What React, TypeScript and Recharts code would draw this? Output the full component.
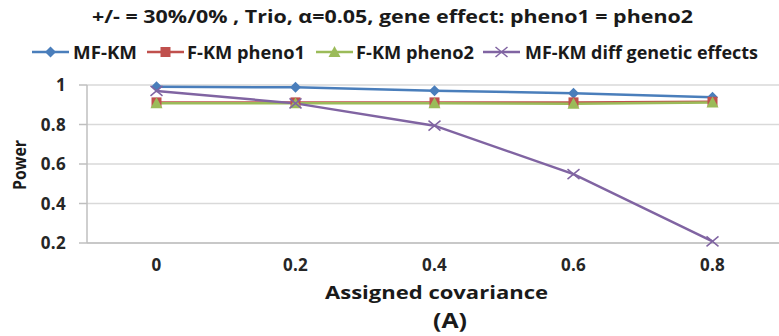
import { LineChart, Line, XAxis, YAxis, CartesianGrid } from 'recharts';

const covariance = ['0', '0.2', '0.4', '0.6', '0.8'];
const mfKm = [0.991, 0.988, 0.971, 0.958, 0.938];
const fKmPheno1 = [0.912, 0.912, 0.912, 0.912, 0.915];
const fKmPheno2 = [0.907, 0.907, 0.907, 0.905, 0.912];
const mfKmDiff = [0.97, 0.907, 0.794, 0.549, 0.208];
const powerTicks = [0.2, 0.4, 0.6, 0.8, 1];

const seriesNames = ['MF-KM', 'F-KM pheno1', 'F-KM pheno2', 'MF-KM diff genetic effects'];
const seriesColors = ['#4a7ebb', '#c0504d', '#9bbb59', '#8064a2'];
const seriesKeys = ['mf', 'p1', 'p2', 'diff'];

const data = covariance.map((x, i) => ({
  x,
  mf: mfKm[i],
  p1: fKmPheno1[i],
  p2: fKmPheno2[i],
  diff: mfKmDiff[i],
}));

const FONT = '"Open Sans", "Noto Sans", sans-serif';

// marker shapes, one per series
const Marker = ({ kind, cx, cy, color }: { kind: number; cx: number; cy: number; color: string }) => {
  if (kind === 0) {
    return <path d={`M${cx},${cy - 5.5}L${cx + 5.5},${cy}L${cx},${cy + 5.5}L${cx - 5.5},${cy}Z`} fill={color} />;
  }
  if (kind === 1) {
    return <rect x={cx - 5} y={cy - 5} width={10} height={10} fill={color} />;
  }
  if (kind === 2) {
    return <path d={`M${cx},${cy - 6}L${cx + 6},${cy + 5}L${cx - 6},${cy + 5}Z`} fill={color} />;
  }
  return (
    <path
      d={`M${cx - 6},${cy - 5}L${cx + 6},${cy + 5}M${cx - 6},${cy + 5}L${cx + 6},${cy - 5}`}
      stroke={color}
      strokeWidth={1.5}
      fill="none"
    />
  );
};

const makeDot = (kind: number) => (props: any) => (
  <Marker key={`d-${kind}-${props.index}`} kind={kind} cx={props.cx} cy={props.cy} color={seriesColors[kind]} />
);

// legend positions (line start, text start, text width)
const legendLayout = [
  { lx: 32, tx: 73, tw: 64 },
  { lx: 147, tx: 187, tw: 118 },
  { lx: 316, tx: 356, tw: 118 },
  { lx: 483, tx: 525, tw: 233 },
];

const App = () => {
  return (
    <div style={{ position: 'absolute', left: 0, top: 0, width: 779, height: 336, overflow: 'hidden', background: '#fff' }}>
      <LineChart width={790} height={336} data={data} margin={{ top: 85, right: 8, left: 0, bottom: 63 }}>
        <CartesianGrid vertical={false} stroke="#d9d9d9" strokeWidth={1.5} />
        <XAxis
          dataKey="x"
          padding={{ left: 69.5, right: 69.5 }}
          axisLine={{ stroke: '#bfbfbf', strokeWidth: 1.5 }}
          tickLine={false}
          tickSize={0}
          tickMargin={16}
          height={30}
          tick={{ fill: '#262626', fontSize: 17, fontWeight: 700, fontFamily: FONT, letterSpacing: 0.3 }}
        />
        <YAxis
          domain={[0.2, 1]}
          ticks={powerTicks}
          width={87}
          axisLine={{ stroke: '#bfbfbf', strokeWidth: 1.5 }}
          tickLine={{ stroke: '#bfbfbf', strokeWidth: 1.5 }}
          tickSize={8}
          tickMargin={13}
          tick={{ fill: '#262626', fontSize: 17, fontWeight: 700, fontFamily: FONT, letterSpacing: 0.3 }}
        />
        {seriesKeys.map((k, i) => (
          <Line
            key={k}
            dataKey={k}
            name={seriesNames[i]}
            stroke={seriesColors[i]}
            strokeWidth={2.5}
            dot={makeDot(i)}
            activeDot={false}
            isAnimationActive={false}
          />
        ))}
      </LineChart>
      <svg width={779} height={336} style={{ position: 'absolute', left: 0, top: 0, pointerEvents: 'none' }}>
        <g fontFamily={FONT} fontWeight={700} fill="#1a1a1a">
          <text x={92} y={16} dominantBaseline="central" fontSize={18} textLength={601} lengthAdjust="spacingAndGlyphs">
            +/- = 30%/0% , Trio, α=0.05, gene effect: pheno1 = pheno2
          </text>
          {legendLayout.map((l, i) => (
            <g key={i}>
              <line x1={l.lx} x2={l.lx + 37} y1={52} y2={52} stroke={seriesColors[i]} strokeWidth={2.5} />
              <Marker kind={i} cx={l.lx + 18.5} cy={52} color={seriesColors[i]} />
              <text x={l.tx} y={52} dominantBaseline="central" fontSize={17} textLength={l.tw} lengthAdjust="spacingAndGlyphs">
                {seriesNames[i]}
              </text>
            </g>
          ))}
          <text
            x={18.5}
            y={165}
            transform="rotate(-90 18.5 165)"
            textAnchor="middle"
            dominantBaseline="central"
            fontSize={18}
            textLength={50}
            lengthAdjust="spacingAndGlyphs"
          >
            Power
          </text>
          <text x={325} y={292} dominantBaseline="central" fontSize={18} textLength={223} lengthAdjust="spacingAndGlyphs">
            Assigned covariance
          </text>
          <text x={433} y={319} dominantBaseline="central" fontSize={22} textLength={34} lengthAdjust="spacingAndGlyphs">
            (A)
          </text>
        </g>
      </svg>
    </div>
  );
};

export default App;
